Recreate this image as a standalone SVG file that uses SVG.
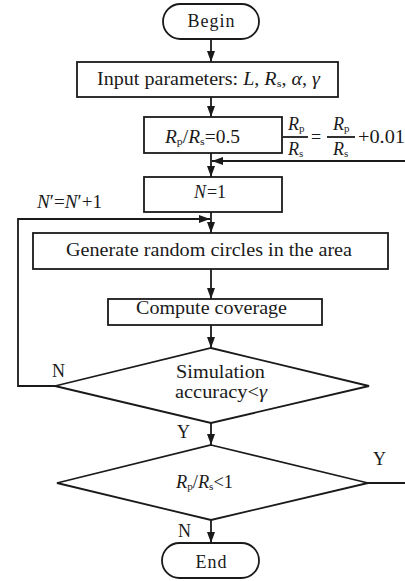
<svg xmlns="http://www.w3.org/2000/svg" width="405" height="581" viewBox="0 0 405 581">
<style>
.s{fill:#fff;stroke:#1a1a1a;stroke-width:1.8}
.c{fill:none;stroke:#1a1a1a;stroke-width:1.8}
text{font-family:"Liberation Serif","Times New Roman",serif;font-size:18px;fill:#1a1a1a}
.m{text-anchor:middle}
.i{font-style:italic}
.sub{font-size:11px;font-style:normal}
</style>
<defs>
<marker id="ah" markerUnits="userSpaceOnUse" markerWidth="12" markerHeight="9" refX="11" refY="4" orient="auto">
<path d="M0,0 L11,4 L0,8 z" fill="#1a1a1a"/>
</marker>
</defs>
<rect width="405" height="581" fill="#fff"/>
<g id="connectors">
<line class="c" x1="211" y1="39" x2="211" y2="62" marker-end="url(#ah)"/>
<line class="c" x1="211" y1="97" x2="211" y2="117" marker-end="url(#ah)"/>
<line class="c" x1="211" y1="153" x2="211" y2="177" marker-end="url(#ah)"/>
<line class="c" x1="405" y1="161" x2="212" y2="161" marker-end="url(#ah)"/>
<line class="c" x1="211" y1="212" x2="211" y2="233" marker-end="url(#ah)"/>
<polyline class="c" points="55,386 18,386 18,219 210,219" marker-end="url(#ah)"/>
<line class="c" x1="211" y1="269" x2="211" y2="299" marker-end="url(#ah)"/>
<line class="c" x1="211" y1="325" x2="211" y2="348" marker-end="url(#ah)"/>
<line class="c" x1="211" y1="423" x2="211" y2="445" marker-end="url(#ah)"/>
<line class="c" x1="211" y1="520" x2="211" y2="543" marker-end="url(#ah)"/>
<line class="c" x1="368" y1="483" x2="405" y2="483"/>
<text x="37" y="208" textLength="65" lengthAdjust="spacingAndGlyphs"><tspan class="i">N</tspan>′=<tspan class="i">N</tspan>′+1</text>
<text x="52" y="377">N</text>
<text x="177" y="438">Y</text>
<text x="373" y="465">Y</text>
<text x="178" y="537">N</text>
<g id="increment">
<line class="c" x1="283" y1="137" x2="308" y2="137"/>
<text x="288" y="130"><tspan class="i">R</tspan><tspan class="sub" dy="2">p</tspan></text>
<text x="288" y="155"><tspan class="i">R</tspan><tspan class="sub" dy="2">s</tspan></text>
<text x="311" y="143">=</text>
<line class="c" x1="327" y1="137" x2="355" y2="137"/>
<text x="333" y="130"><tspan class="i">R</tspan><tspan class="sub" dy="2">p</tspan></text>
<text x="333" y="155"><tspan class="i">R</tspan><tspan class="sub" dy="2">s</tspan></text>
<text x="358" y="143" textLength="47" lengthAdjust="spacingAndGlyphs">+0.01</text>
</g>
</g>
<g id="begin">
<rect class="s" x="163" y="4" width="96" height="35" rx="17.5"/>
<text class="m" x="211" y="27" textLength="47">Begin</text>
</g>
<g id="input">
<rect class="s" x="77" y="62" width="261" height="35"/>
<text x="97" y="85" textLength="223" lengthAdjust="spacingAndGlyphs">Input parameters: <tspan class="i">L</tspan>, <tspan class="i">R</tspan><tspan class="sub" dy="2">s</tspan><tspan dy="-2">, </tspan><tspan class="i">α</tspan>, <tspan class="i">γ</tspan></text>
</g>
<g id="ratio-init">
<rect class="s" x="144" y="117" width="138" height="36"/>
<text x="165" y="143" textLength="75" lengthAdjust="spacingAndGlyphs"><tspan class="i">R</tspan><tspan class="sub" dy="2">p</tspan><tspan dy="-2">/</tspan><tspan class="i">R</tspan><tspan class="sub" dy="2">s</tspan><tspan dy="-2">=0.5</tspan></text>
</g>
<g id="n-init">
<rect class="s" x="144" y="177" width="138" height="35"/>
<text class="m" x="210" y="198"><tspan class="i">N</tspan><tspan dx="1">=1</tspan></text>
</g>
<g id="generate">
<rect class="s" x="33" y="233" width="355" height="36"/>
<text x="66" y="256" textLength="286" lengthAdjust="spacingAndGlyphs">Generate random circles in the area</text>
</g>
<g id="compute">
<rect class="s" x="108" y="299" width="214" height="26"/>
<text x="136" y="314" textLength="151" lengthAdjust="spacingAndGlyphs">Compute coverage</text>
</g>
<g id="accuracy">
<polygon class="s" points="211,348 369,386 211,423 55,386"/>
<text x="176" y="378" textLength="89" lengthAdjust="spacingAndGlyphs">Simulation</text>
<text x="175" y="398" textLength="92" lengthAdjust="spacingAndGlyphs">accuracy&lt;<tspan class="i">γ</tspan></text>
</g>
<g id="ratio-check">
<polygon class="s" points="211,445 368,483 211,520 57,483"/>
<text x="176" y="488" textLength="57" lengthAdjust="spacingAndGlyphs"><tspan class="i">R</tspan><tspan class="sub" dy="2">p</tspan><tspan dy="-2">/</tspan><tspan class="i">R</tspan><tspan class="sub" dy="2">s</tspan><tspan dy="-2">&lt;1</tspan></text>
</g>
<g id="end">
<rect class="s" x="162" y="543" width="97" height="35" rx="17.5"/>
<text class="m" x="211" y="568" textLength="31">End</text>
</g>
</svg>
